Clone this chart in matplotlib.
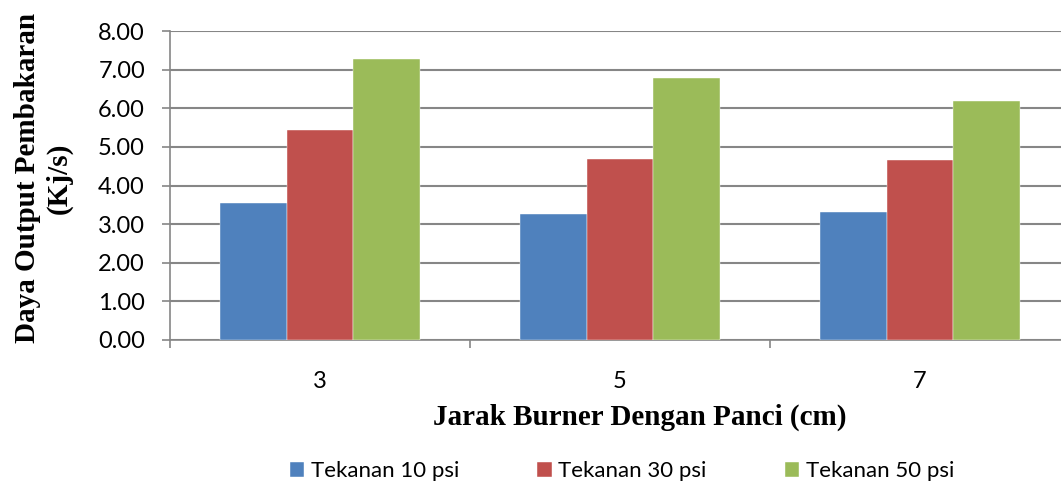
import matplotlib.pyplot as plt
import numpy as np

# jarak burner (cm) dan daya output (kJ/s) untuk tiap tekanan
jarak = ['3', '5', '7']
tekanan_10 = [3.54, 3.26, 3.31]
tekanan_30 = [5.44, 4.68, 4.65]
tekanan_50 = [7.27, 6.78, 6.18]
seri = ['Tekanan 10 psi', 'Tekanan 30 psi', 'Tekanan 50 psi']
warna = ['#4f81bd', '#c0504d', '#9bbb59']

plt.rcParams['font.family'] = ['Lato', 'DejaVu Sans']

W, H = 1061, 484
fig = plt.figure(figsize=(W / 100, H / 100), dpi=100)
ax = fig.add_axes([170 / W, 1 - 340 / H, 900 / W, 309 / H])

x = np.arange(len(jarak))
lebar = 0.223
for i, (nilai, nama, c) in enumerate(zip([tekanan_10, tekanan_30, tekanan_50], seri, warna)):
    ax.bar(x + (i - 1) * lebar, nilai, width=lebar, color=c, label=nama,
           edgecolor='white', linewidth=0.3, zorder=3)

ax.set_xlim(-0.5, 2.5)
ax.set_ylim(0, 8)
ax.set_yticks(np.arange(0, 8.01, 1))
ax.set_yticklabels(['%.2f' % v for v in np.arange(0, 8.01, 1)], fontsize=17)
ax.yaxis.grid(True, color='#868686', linewidth=1.5, zorder=0)

# tick mark di batas kategori, label di tengah
ax.set_xticks([-0.5, 0.5, 1.5, 2.5])
ax.set_xticklabels([])
ax.set_xticks(x, minor=True)
ax.set_xticklabels(jarak, minor=True, fontsize=17)
ax.tick_params(axis='x', which='major', length=6, color='#868686', width=1.2)
ax.tick_params(axis='x', which='minor', length=0, pad=22)
ax.tick_params(axis='y', length=6, color='#868686', width=1.2, pad=12)

for s in ['top', 'right']:
    ax.spines[s].set_visible(False)
for s in ['left', 'bottom']:
    ax.spines[s].set_color('#868686')
    ax.spines[s].set_linewidth(1.2)

ax.set_xlabel('Jarak Burner Dengan Panci (cm)', fontsize=21, fontweight='bold',
              family='Liberation Serif')
ax.xaxis.set_label_coords(0.522, -0.205)
ax.set_ylabel('Daya Output Pembakaran\n(Kj/s)', fontsize=21, fontweight='bold',
              family='Liberation Serif', linespacing=1.2)
ax.yaxis.set_label_coords(-0.108, 0.524)

fig.legend(loc='center', bbox_to_anchor=(622 / W, 1 - 471 / H), ncol=3, frameon=False,
           fontsize=16, handlelength=0.65, handleheight=0.65, handletextpad=0.3,
           columnspacing=3.5)

fig.savefig('out.png', dpi=100)
